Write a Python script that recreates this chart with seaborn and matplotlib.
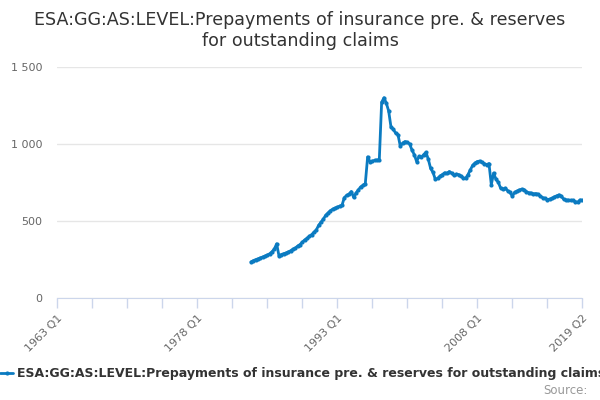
import numpy as np
import pandas as pd
import seaborn as sns
import matplotlib.pyplot as plt
from matplotlib.lines import Line2D

# quarterly series, first point 1983 Q4
start_year = 1983
start_quarter = 4
values = [
    232,
    240, 247, 252, 258,
    264, 270, 277, 285,
    298, 315, 350, 272,
    280, 286, 290, 297,
    305, 315, 322, 335,
    345, 360, 375, 385,
    398, 410, 425, 440,
    470, 490, 510, 535,
    550, 565, 575, 582,
    588, 595, 600, 650,
    665, 672, 690, 652,
    680, 700, 720, 730,
    742, 915, 885, 888,
    892, 895, 896, 1270,
    1300, 1265, 1215, 1110,
    1095, 1070, 1060, 985,
    1005, 1015, 1010, 1000,
    960, 930, 885, 918,
    912, 930, 945, 900,
    840, 815, 770, 775,
    790, 800, 812, 808,
    820, 810, 795, 803,
    800, 790, 778, 776,
    800, 830, 860, 875,
    885, 888, 880, 872,
    865, 872, 735, 810,
    770, 750, 712, 705,
    712, 695, 685, 660,
    685, 692, 700, 705,
    702, 690, 682, 680,
    675, 677, 672, 660,
    650, 645, 638, 640,
    645, 655, 662, 668,
    660, 640, 635, 634,
    633, 632, 625, 620,
    635, 632,
]
axis_start = (1963, 1)
axis_end = (2019, 2)
tick_labels = ["1963 Q1", "1978 Q1", "1993 Q1", "2008 Q1", "2019 Q2"]
series_name = "ESA:GG:AS:LEVEL:Prepayments of insurance pre. & reserves for outstanding claims"
title = "ESA:GG:AS:LEVEL:Prepayments of insurance pre. & reserves\nfor outstanding claims"


def qindex(year, q):
    return (year - axis_start[0]) * 4 + (q - axis_start[1])


first = qindex(start_year, start_quarter)
df = pd.DataFrame({"q": np.arange(first, first + len(values)), "value": values})
last = qindex(*axis_end)

sns.set_style("white")
plt.rcParams["font.family"] = ["DejaVu Sans"]
color = "#0b7bc1"

fig = plt.figure(figsize=(6, 4), dpi=100)
ax = fig.add_axes([0.0955, 0.256, 0.875, 0.5765])
sns.lineplot(data=df, x="q", y="value", ax=ax, color=color, linewidth=2,
             marker="o", markersize=3, markeredgewidth=0)

ax.set_xlim(0, last)
ax.set_ylim(0, 1500)
ax.set_yticks([0, 500, 1000, 1500])
ax.set_yticklabels(["0", "500", "1 000", "1 500"])
ax.yaxis.grid(True, color="#e6e6e6", linewidth=1)
ax.set_axisbelow(True)

# a tick every 15 quarters, labels on some of them
major = [qindex(int(t[:4]), int(t[-1])) for t in tick_labels]
minor = [t for t in range(0, last + 1, 15) if t not in major]
ax.set_xticks(major)
ax.set_xticklabels(tick_labels, rotation=45, ha="right", rotation_mode="anchor")
ax.set_xticks(minor, minor=True)
ax.tick_params(axis="x", which="both", bottom=True, length=7, width=1, color="#ccd6eb",
               direction="out", labelsize=8, labelcolor="#666666", pad=4)
ax.tick_params(axis="y", left=False, length=0, labelsize=8, labelcolor="#666666", pad=11)

for s in ["top", "right", "left"]:
    ax.spines[s].set_visible(False)
ax.spines["bottom"].set_color("#ccd6eb")
ax.set_xlabel("")
ax.set_ylabel("")

fig.text(0.5, 0.973, title, ha="center", va="top", fontsize=12.6, color="#333333")

# legend row
fig.add_artist(Line2D([0.0, 0.022], [0.067, 0.067], transform=fig.transFigure,
                      color=color, linewidth=2))
fig.add_artist(Line2D([0.011], [0.067], transform=fig.transFigure, color=color,
                      marker="o", markersize=3, markeredgewidth=0, linestyle="none"))
fig.text(0.028, 0.067, series_name, ha="left", va="center", fontsize=9,
         fontweight="bold", color="#333333")
fig.text(0.98, 0.025, "Source:", ha="right", va="center", fontsize=8.5, color="#999999")

fig.savefig("out.png", dpi=100)
